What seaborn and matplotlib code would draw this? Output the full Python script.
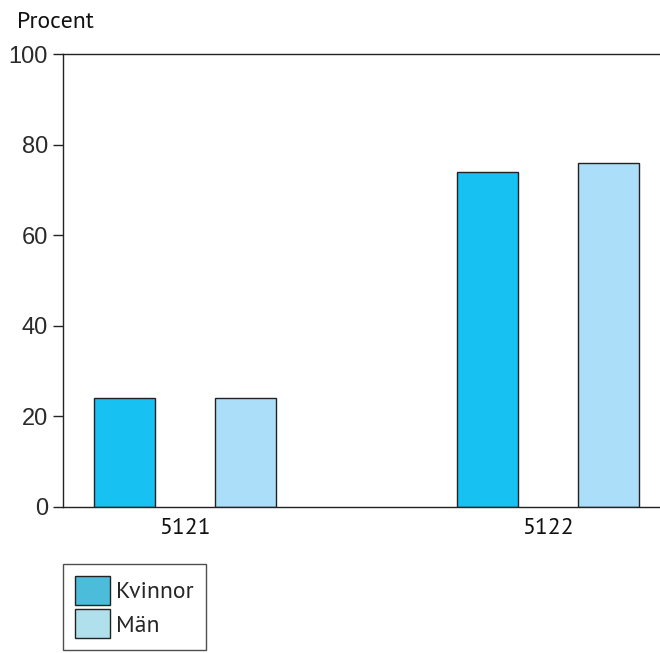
import pandas as pd
import matplotlib.pyplot as plt
import seaborn as sns
from matplotlib.patches import Patch

# data
groups = ['5121', '5122']
kvinnor = [24, 74]
man = [24, 76]
series = ['Kvinnor', 'Män']
yticks = [0, 20, 40, 60, 80, 100]

bar_colors = ['#17C2F2', '#ABDFF9']
legend_colors = ['#4BBCD9', '#B0E0EC']

df = pd.DataFrame({
    'grupp': groups * 2,
    'kon': [series[0]] * len(groups) + [series[1]] * len(groups),
    'procent': kvinnor + man,
})

sns.set_theme(style='white')
text_font = ['PT Sans', 'Noto Sans', 'DejaVu Sans']
plt.rcParams['font.family'] = text_font
plt.rcParams['font.weight'] = 'normal'

fig = plt.figure(figsize=(6.6, 6.53), dpi=100)
ax = fig.add_axes([0.0955, 0.2236, 0.933, 0.6937])

sns.barplot(data=df, x='grupp', y='procent', hue='kon', order=groups,
            hue_order=series, palette=bar_colors, width=0.667, gap=0.5,
            edgecolor='#222222', linewidth=1.0, saturation=1, ax=ax)

ax.set_ylim(0, 100)
ax.set_xlim(-0.336, 1.36)
ax.set_yticks(yticks)
ax.set_yticklabels([str(v) for v in yticks],
                   fontfamily=['Liberation Sans', 'DejaVu Sans'], fontsize=17)
ax.set_xlabel('')
ax.set_ylabel('')
ax.get_legend().remove()

ax.tick_params(axis='y', length=7, width=1, color='#222222', pad=4,
               labelcolor='#2a2a2a', left=True)
ax.tick_params(axis='x', length=0, pad=8, labelsize=17, labelcolor='#111111')
for lbl in ax.get_xticklabels():
    lbl.set_x(lbl.get_position()[0])

for side in ['left', 'bottom', 'top']:
    ax.spines[side].set_visible(True)
    ax.spines[side].set_color('#222222')
    ax.spines[side].set_linewidth(1.0)
ax.spines['right'].set_visible(False)

fig.text(0.026, 0.95, 'Procent', fontsize=17, color='#111111', ha='left', va='bottom')

handles = [Patch(facecolor=c, edgecolor='#222222', linewidth=1.0) for c in legend_colors]
leg = fig.legend(handles, series, loc='upper left', bbox_to_anchor=(0.0955, 0.1363),
                 borderaxespad=0, fontsize=17, handlelength=1.5, handleheight=1.5,
                 handletextpad=0.25, labelspacing=0.2, borderpad=0.5,
                 frameon=True, fancybox=False)
leg.get_frame().set_edgecolor('#222222')
leg.get_frame().set_linewidth(1.0)

fig.savefig('out.png', dpi=100)
